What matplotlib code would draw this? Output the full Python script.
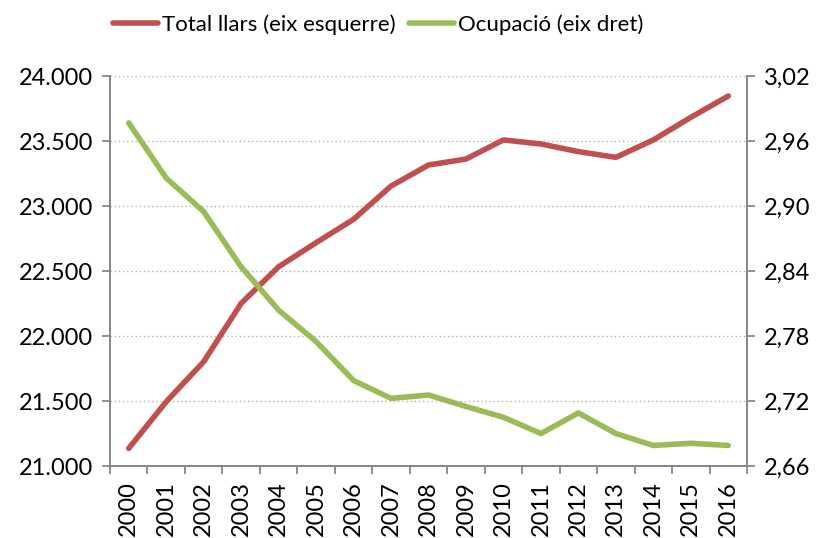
import matplotlib
matplotlib.use("Agg")
import matplotlib.pyplot as plt
import numpy as np
from matplotlib.ticker import FuncFormatter, FixedLocator

plt.rcParams['font.family'] = ['Lato', 'DejaVu Sans']

years = [str(y) for y in range(2000, 2017)]
total_llars = [21136, 21495, 21803, 22252, 22534, 22719, 22899, 23155, 23317,
               23363, 23510, 23479, 23420, 23376, 23510, 23684, 23848]
ocupacio = [2.977, 2.926, 2.895, 2.844, 2.804, 2.775, 2.739, 2.7225, 2.7256,
            2.715, 2.705, 2.690, 2.709, 2.690, 2.679, 2.681, 2.679]

RED = '#c0504d'
GREEN = '#9bbb59'
GREY = '#878787'

fig = plt.figure(figsize=(8.19, 5.38), dpi=100)
ax = fig.add_axes([0.1343, 0.1338, 0.9121 - 0.1343, 0.8582 - 0.1338])
ax2 = ax.twinx()

x = np.arange(len(years))
l1, = ax.plot(x, total_llars, color=RED, lw=4, solid_capstyle='round',
              label='Total llars (eix esquerre)', zorder=3)
l2, = ax2.plot(x, ocupacio, color=GREEN, lw=4, solid_capstyle='round',
               label='Ocupació (eix dret)', zorder=3)

ax.set_xlim(-0.5, len(years) - 0.5)
ax.set_ylim(21000, 24000)
ax.set_yticks(np.arange(21000, 24001, 500))
ax.yaxis.set_major_formatter(FuncFormatter(lambda v, p: '{:,.0f}'.format(v).replace(',', '.')))
ax2.set_ylim(2.66, 3.02)
ax2.set_yticks(np.arange(2.66, 3.021, 0.06))
ax2.yaxis.set_major_formatter(FuncFormatter(lambda v, p: '{:.2f}'.format(v).replace('.', ',')))

ax.set_xticks(x)
ax.set_xticklabels(years, rotation=90)
ax.xaxis.set_minor_locator(FixedLocator(np.arange(-0.5, len(years), 1)))
ax.tick_params(axis='x', which='major', length=0, pad=11)
ax.tick_params(axis='x', which='minor', length=6, color=GREY, width=1.3)
ax.tick_params(axis='y', length=6, color=GREY, width=1.3, pad=6)
ax2.tick_params(axis='y', length=6, color=GREY, width=1.3, pad=6)
for a in (ax, ax2):
    a.tick_params(labelsize=17)
    a.spines['top'].set_visible(False)
    for s in ('left', 'right', 'bottom'):
        a.spines[s].set_color(GREY)
        a.spines[s].set_linewidth(1.3)

ax.yaxis.grid(True, linestyle=(0, (1, 2)), color='#b0b0b0', lw=1)
ax.set_axisbelow(True)

fig.legend(handles=[l1, l2], loc='upper left', bbox_to_anchor=(0.114, 1.01),
           ncol=2, frameon=False, fontsize=16, handlelength=2.0,
           handletextpad=0.2, columnspacing=0.6)

fig.savefig('out.png', dpi=100, facecolor='white')
